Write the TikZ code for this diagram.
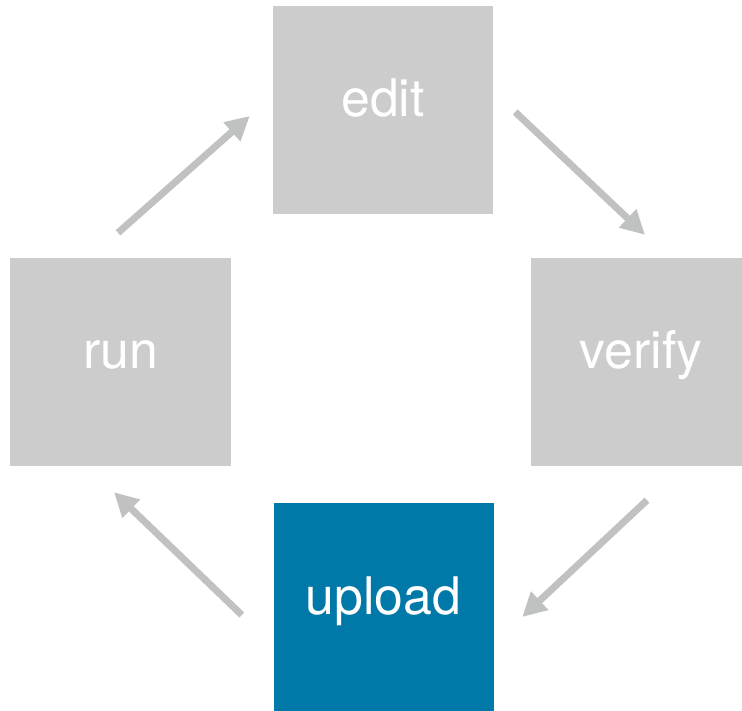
\documentclass[tikz,border=0pt]{standalone}
\usepackage{fontspec}
\setmainfont{TeX Gyre Heros}
\usepackage{tikz}
\usetikzlibrary{arrows.meta}
\definecolor{boxgray}{HTML}{CCCCCC}
\definecolor{arrowgray}{HTML}{C0C2C1}
\definecolor{activeblue}{HTML}{0079A9}
\tikzset{stage/.style={fill=boxgray, text=white, inner sep=0pt,
		minimum width=220bp, minimum height=208bp,
		text height=20bp, text depth=6bp, font=\fontsize{52}{60}\selectfont}}
\tikzset{cycle/.style={draw=arrowgray, line width=7bp, -{Triangle[length=24bp,width=24bp]}}}

\begin{document}
\begin{tikzpicture}[x=1bp, y=1bp]
	\clip (0,0) rectangle (742,711);

	% Stages of the loop
	\node[stage] (edit) at (383,601) {edit};
	\node[stage] (run) at (120.5,349) {run};		\node[stage] (verify) at (641,349) {verify};
	\node[stage, fill=activeblue] (upload) at (383.5,103.5) {upload};

	% Arrows round the loop
	\draw[cycle] ([shift={(-2.5,25)}]run.north) -- ([shift={(-23,-6)}]edit.west);
	\draw[cycle] ([shift={(22,-2)}]edit.east) -- ([shift={(4,23)}]verify.north);
	\draw[cycle] ([shift={(6,-34)}]verify.south) -- ([shift={(28.5,-9.5)}]upload.east);
	\draw[cycle] ([shift={(-31.5,-7.5)}]upload.west) -- ([shift={(-6.5,-26)}]run.south);
\end{tikzpicture}
\end{document}
